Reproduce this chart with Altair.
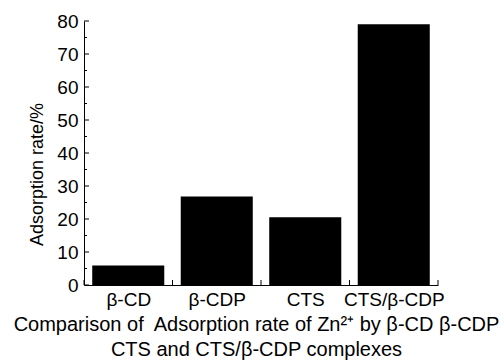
import altair as alt
import pandas as pd

categories = ["β-CD", "β-CDP", "CTS", "CTS/β-CDP"]
values = [5.9, 26.8, 20.5, 79.0]
positions = [1, 2, 3, 4]
y_major_ticks = [0, 10, 20, 30, 40, 50, 60, 70, 80]
y_minor_ticks = [5, 15, 25, 35, 45, 55, 65, 75]
x_ticks = [0.5, 1.5, 2.5, 3.5, 4.5]
half_width = 0.407

FONT = "Liberation Sans"
W, H = 354, 264

bars_df = pd.DataFrame({"cat": categories, "pos": positions, "value": values})
bars_df["x0"] = bars_df["pos"] - half_width
bars_df["x1"] = bars_df["pos"] + half_width
bars_df["base"] = 0

label_expr = "[" + ",".join("'" + c + "'" for c in categories) + "][datum.value - 1]"

xscale = alt.Scale(domain=[0.5, 4.5], nice=False, zero=False)
yscale = alt.Scale(domain=[0, 80], nice=False)

xaxis = alt.Axis(
    values=positions, labelExpr=label_expr, ticks=False, grid=False,
    domainColor="black", domainWidth=1, labelOverlap=False,
    labelFont=FONT, labelFontSize=19, labelColor="black", labelPadding=5,
    title=["Comparison of\u00a0 Adsorption rate of Zn²⁺ by β-CD β-CDP",
           "CTS and CTS/β-CDP complexes"],
    titleFont=FONT, titleFontSize=20, titleFontWeight="normal", titleColor="black",
    titleX=172, titleY=29, titleAlign="center", titleBaseline="top",
    titleLineHeight=25, titleAnchor="middle")

yaxis = alt.Axis(
    values=y_major_ticks, ticks=False, grid=False, labelOverlap=False,
    domainColor="black", domainWidth=1,
    labelFont=FONT, labelFontSize=19, labelColor="black", labelPadding=6,
    title="Adsorption rate/%", titleFont=FONT, titleFontSize=18,
    titleFontWeight="normal", titleColor="black",
    titleX=-47, titleY=153, titleAngle=-90, titleAlign="center",
    titleBaseline="middle")

bars = alt.Chart(bars_df).mark_rect(color="black").encode(
    x=alt.X("x0:Q", scale=xscale, axis=xaxis),
    x2="x1:Q",
    y=alt.Y("value:Q", scale=yscale, axis=yaxis),
    y2="base:Q",
)

ymaj = alt.Chart(pd.DataFrame({"v": y_major_ticks})).mark_rule(color="black", strokeWidth=1).encode(
    y=alt.Y("v:Q", scale=yscale, axis=yaxis), x=alt.value(0), x2=alt.value(5))
ymin = alt.Chart(pd.DataFrame({"v": y_minor_ticks})).mark_rule(color="black", strokeWidth=1).encode(
    y=alt.Y("v:Q", scale=yscale, axis=yaxis), x=alt.value(0), x2=alt.value(3))
xt = alt.Chart(pd.DataFrame({"v": x_ticks})).mark_rule(color="black", strokeWidth=1).encode(
    x=alt.X("v:Q", scale=xscale, axis=xaxis), y=alt.value(H), y2=alt.value(H - 5))

chart = alt.layer(bars, ymaj, ymin, xt).properties(
    width=W, height=H,
    autosize=alt.AutoSizeParams(type="none"),
    padding={"left": 84, "top": 21, "right": 65, "bottom": 75},
    background="white",
).configure_view(stroke=None)

chart.save("out.html", embed_options={"renderer": "svg", "actions": False})
